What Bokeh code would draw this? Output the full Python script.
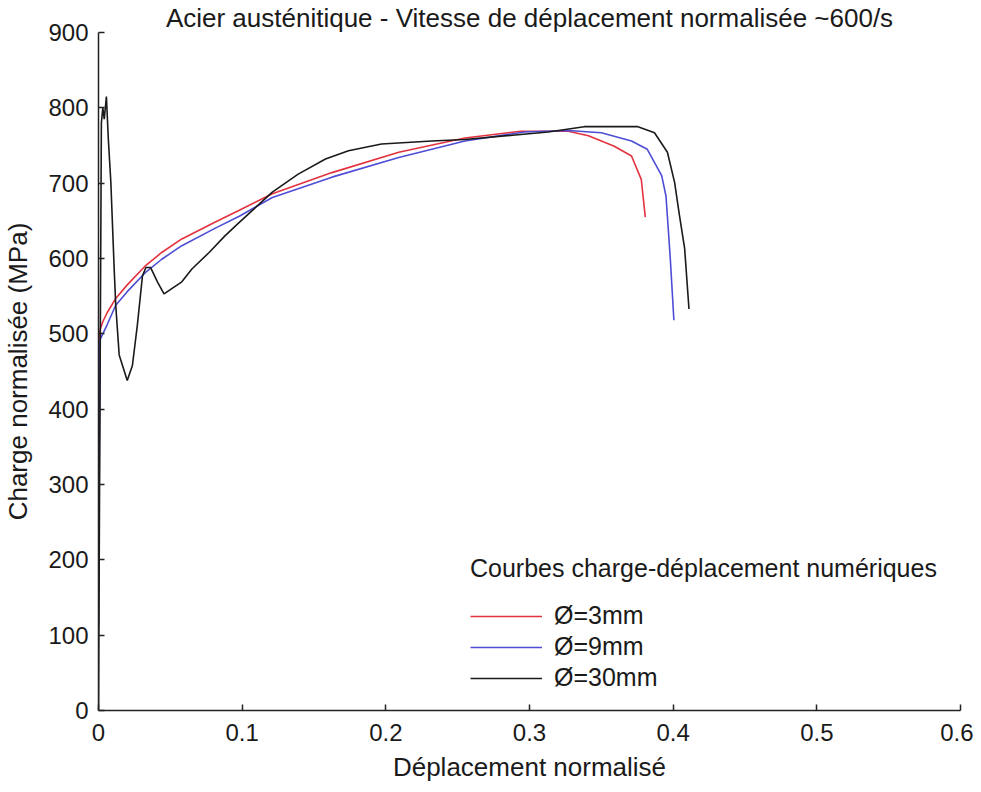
from bokeh.plotting import figure
from bokeh.models import Range1d, FixedTicker, Legend, LegendItem
from bokeh.embed import file_html
from bokeh.resources import INLINE

# ---- data ----
red_x = [0, 0.0005, 0.001, 0.003, 0.006, 0.012, 0.02, 0.033, 0.044, 0.058, 0.081, 0.098,
         0.121, 0.1625, 0.209, 0.255, 0.294, 0.327, 0.341, 0.359, 0.371, 0.3778, 0.3806]
red_y = [150, 350, 505, 516, 528, 547, 565, 591, 608, 626, 648, 664,
         686, 714, 741, 760, 769, 769, 763, 749, 736, 705, 655]

blue_x = [0, 0.0005, 0.001, 0.003, 0.006, 0.012, 0.02, 0.033, 0.044, 0.058, 0.081, 0.098,
          0.121, 0.1625, 0.209, 0.255, 0.2965, 0.327, 0.35, 0.371, 0.382, 0.392, 0.395,
          0.398, 0.4005]
blue_y = [110, 300, 492, 500, 512, 538, 556, 582, 599, 617, 640, 656,
          681, 708, 734, 756, 768, 770, 767, 756, 745, 710, 683,
          600, 518]

black_x = [0, 0.001, 0.002, 0.003, 0.004, 0.0055, 0.0068, 0.0086, 0.011, 0.012, 0.0144,
           0.020, 0.0236, 0.027, 0.0306, 0.033, 0.0363, 0.041, 0.0456, 0.051, 0.058,
           0.065, 0.077, 0.088, 0.098, 0.121, 0.139, 0.158, 0.174, 0.197, 0.232, 0.255,
           0.29, 0.313, 0.338, 0.3755, 0.387, 0.396, 0.401, 0.4044, 0.408, 0.411]
black_y = [0, 400, 780, 800, 785, 815, 760, 701, 582, 538, 472,
           438, 458, 511, 577, 588, 588, 569, 553, 560, 569,
           586, 608, 630, 648, 688, 712, 732, 743, 752, 756, 758,
           764, 768, 775, 775, 767, 741, 701, 657, 613, 533]

x_ticks = [0, 0.1, 0.2, 0.3, 0.4, 0.5, 0.6]
y_ticks = [0, 100, 200, 300, 400, 500, 600, 700, 800, 900]

series_labels = ["Ø=3mm", "Ø=9mm", "Ø=30mm"]
series_colors = ["#e3323f", "#4d4dd6", "#1a1a1a"]
title_text = "Acier austénitique - Vitesse de déplacement normalisée ~600/s"

FONT = "Liberation Sans"

p = figure(width=973, height=784, output_backend="svg", toolbar_location=None,
           x_range=Range1d(0, 0.6), y_range=Range1d(0, 900),
           min_border_left=96, min_border_top=0, min_border_bottom=71,
           min_border_right=13)

p.title.text = title_text
p.title.text_font = FONT
p.title.text_font_size = "26px"
p.title.text_font_style = "normal"
p.title.text_color = "#1a1a1a"
p.title.align = "center"
p.title.standoff = 0
p.title.offset = 0

p.outline_line_color = None
p.grid.grid_line_color = None
p.background_fill_color = "white"

for ax, ticks in ((p.xaxis, x_ticks), (p.yaxis, y_ticks)):
    ax.ticker = FixedTicker(ticks=ticks)
    ax.minor_tick_line_color = None
    ax.major_tick_in = 6
    ax.major_tick_out = 0
    ax.major_tick_line_color = "#222222"
    ax.major_tick_line_width = 1.5
    ax.axis_line_color = "#222222"
    ax.axis_line_width = 1.5
    ax.major_label_text_font = FONT
    ax.major_label_text_font_size = "24px"
    ax.major_label_text_color = "#1a1a1a"
    ax.major_label_standoff = 10
    ax.axis_label_text_font = FONT
    ax.axis_label_text_font_size = "26px"
    ax.axis_label_text_font_style = "normal"
    ax.axis_label_text_color = "#1a1a1a"

p.xaxis.axis_label = "Déplacement normalisé"
p.yaxis.axis_label = "Charge normalisée (MPa)"
p.xaxis.major_label_standoff = 13
p.xaxis.axis_label_standoff = 8
p.yaxis.axis_label_standoff = 12
p.xaxis.major_label_overrides = {0: "0"}

r_red = p.line(red_x, red_y, line_color=series_colors[0], line_width=1.6)
r_blue = p.line(blue_x, blue_y, line_color=series_colors[1], line_width=1.6)
r_black = p.line(black_x, black_y, line_color=series_colors[2], line_width=1.6)

legend = Legend(items=[LegendItem(label=series_labels[0], renderers=[r_red]),
                       LegendItem(label=series_labels[1], renderers=[r_blue]),
                       LegendItem(label=series_labels[2], renderers=[r_black])],
                location=(372, 18), title="Courbes charge-déplacement numériques",
                title_text_font=FONT, title_text_font_size="25px",
                title_text_font_style="normal", title_text_color="#1a1a1a",
                title_standoff=18,
                label_text_font=FONT, label_text_font_size="25px",
                label_text_color="#1a1a1a",
                glyph_width=72, glyph_height=20, label_height=20, spacing=2,
                label_standoff=12, padding=0, margin=0,
                border_line_color=None, background_fill_alpha=0)
p.add_layout(legend, "center")

open("out.html", "w").write(file_html(p, INLINE))
